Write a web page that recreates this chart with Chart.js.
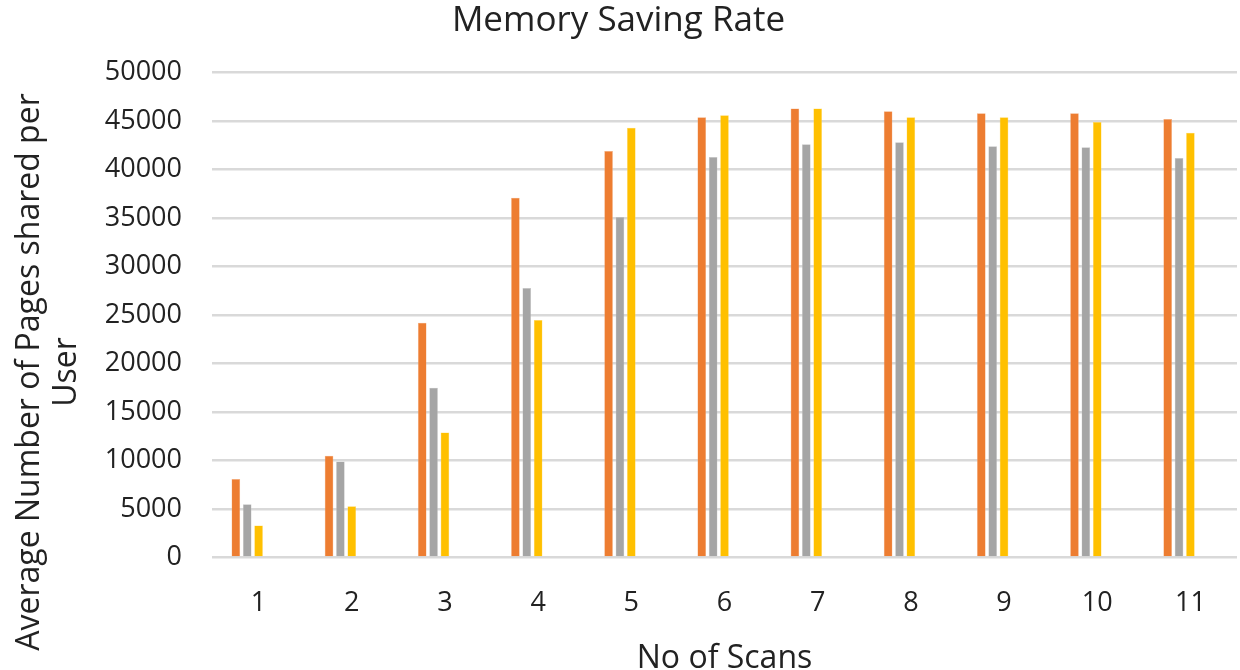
<!DOCTYPE html>
<html>
<head>
<meta charset="utf-8">
<script src="https://cdn.jsdelivr.net/npm/chart.js@4/dist/chart.umd.min.js"></script>
<style>
html,body{margin:0;padding:0;background:#fff;}
#wrap{width:1240px;height:670px;position:relative;}
</style>
</head>
<body>
<div id="wrap"><canvas id="c" width="1240" height="670"></canvas></div>
<script>
const categories = ['1','2','3','4','5','6','7','8','9','10','11'];
const seriesA = [8100, 10500, 24200, 37100, 41900, 45400, 46300, 46000, 45800, 45800, 45200];
const seriesB = [5500, 9900, 17500, 27800, 35100, 41300, 42600, 42800, 42400, 42300, 41200];
const seriesC = [3300, 5300, 12900, 24500, 44300, 45600, 46300, 45400, 45400, 44900, 43800];
// two further series in the source workbook carry no data (they only reserve slots in each group)
const seriesD = [];
const seriesE = [];
const yTicks = [0, 5000, 10000, 15000, 20000, 25000, 30000, 35000, 40000, 45000, 50000];
const yTitleLines = ['Average Number of Pages shared per', 'User'];

const FONT = '"Open Sans", Lato, sans-serif';
Chart.defaults.font.family = FONT;
Chart.defaults.color = '#222';

const yTitlePlugin = {
  id: 'yTitle',
  afterDraw(chart) {
    const ctx = chart.ctx;
    ctx.save();
    ctx.fillStyle = '#222';
    ctx.font = '32px ' + FONT;
    ctx.textAlign = 'center';
    ctx.textBaseline = 'middle';
    const xs = [30, 67];
    yTitleLines.forEach((t, i) => {
      ctx.save();
      ctx.translate(xs[i], 372);
      ctx.rotate(-Math.PI / 2);
      ctx.fillText(t, 0, 0);
      ctx.restore();
    });
    ctx.restore();
  }
};

new Chart(document.getElementById('c'), {
  type: 'bar',
  data: {
    labels: categories,
    datasets: [
      {label: 'Series 1', data: seriesA, backgroundColor: '#ED7D31', borderColor: '#F4B183', borderWidth: 0.5},
      {label: 'Series 2', data: seriesB, backgroundColor: '#A5A5A5', borderColor: '#C9C9C9', borderWidth: 0.5},
      {label: 'Series 3', data: seriesC, backgroundColor: '#FFC000', borderColor: '#FFD966', borderWidth: 0.5},
      {label: 'Series 4', data: seriesD, backgroundColor: '#5B9BD5'},
      {label: 'Series 5', data: seriesE, backgroundColor: '#70AD47'}
    ]
  },
  plugins: [yTitlePlugin],
  options: {
    responsive: false,
    animation: false,
    layout: {padding: {left: 0, right: 3, top: 0, bottom: -5}},
    categoryPercentage: 0.61,
    barPercentage: 0.76,
    plugins: {
      legend: {display: false},
      tooltip: {enabled: false},
      title: {
        display: true,
        text: 'Memory Saving Rate',
        font: {size: 35, weight: 'normal', family: FONT, lineHeight: 1.1},
        color: '#222',
        padding: {top: 2, bottom: 32}
      }
    },
    scales: {
      x: {
        grid: {display: false, drawTicks: false},
        border: {display: false},
        ticks: {font: {size: 27}, color: '#222', padding: 30},
        title: {display: true, text: 'No of Scans', font: {size: 32, lineHeight: 1.0}, color: '#222', padding: {top: -7, bottom: 0}}
      },
      y: {
        min: 0, max: 50000,
        afterBuildTicks: (ax) => { ax.ticks = yTicks.map(v => ({value: v})); },
        afterFit: (ax) => { ax.width = 212; },
        grid: {color: '#D9D9D9', lineWidth: 2.5, drawTicks: false},
        border: {display: false},
        ticks: {font: {size: 27}, color: '#222', padding: 30, callback: (v) => String(v)},
        title: {display: false}
      }
    }
  }
});
</script>
</body>
</html>
